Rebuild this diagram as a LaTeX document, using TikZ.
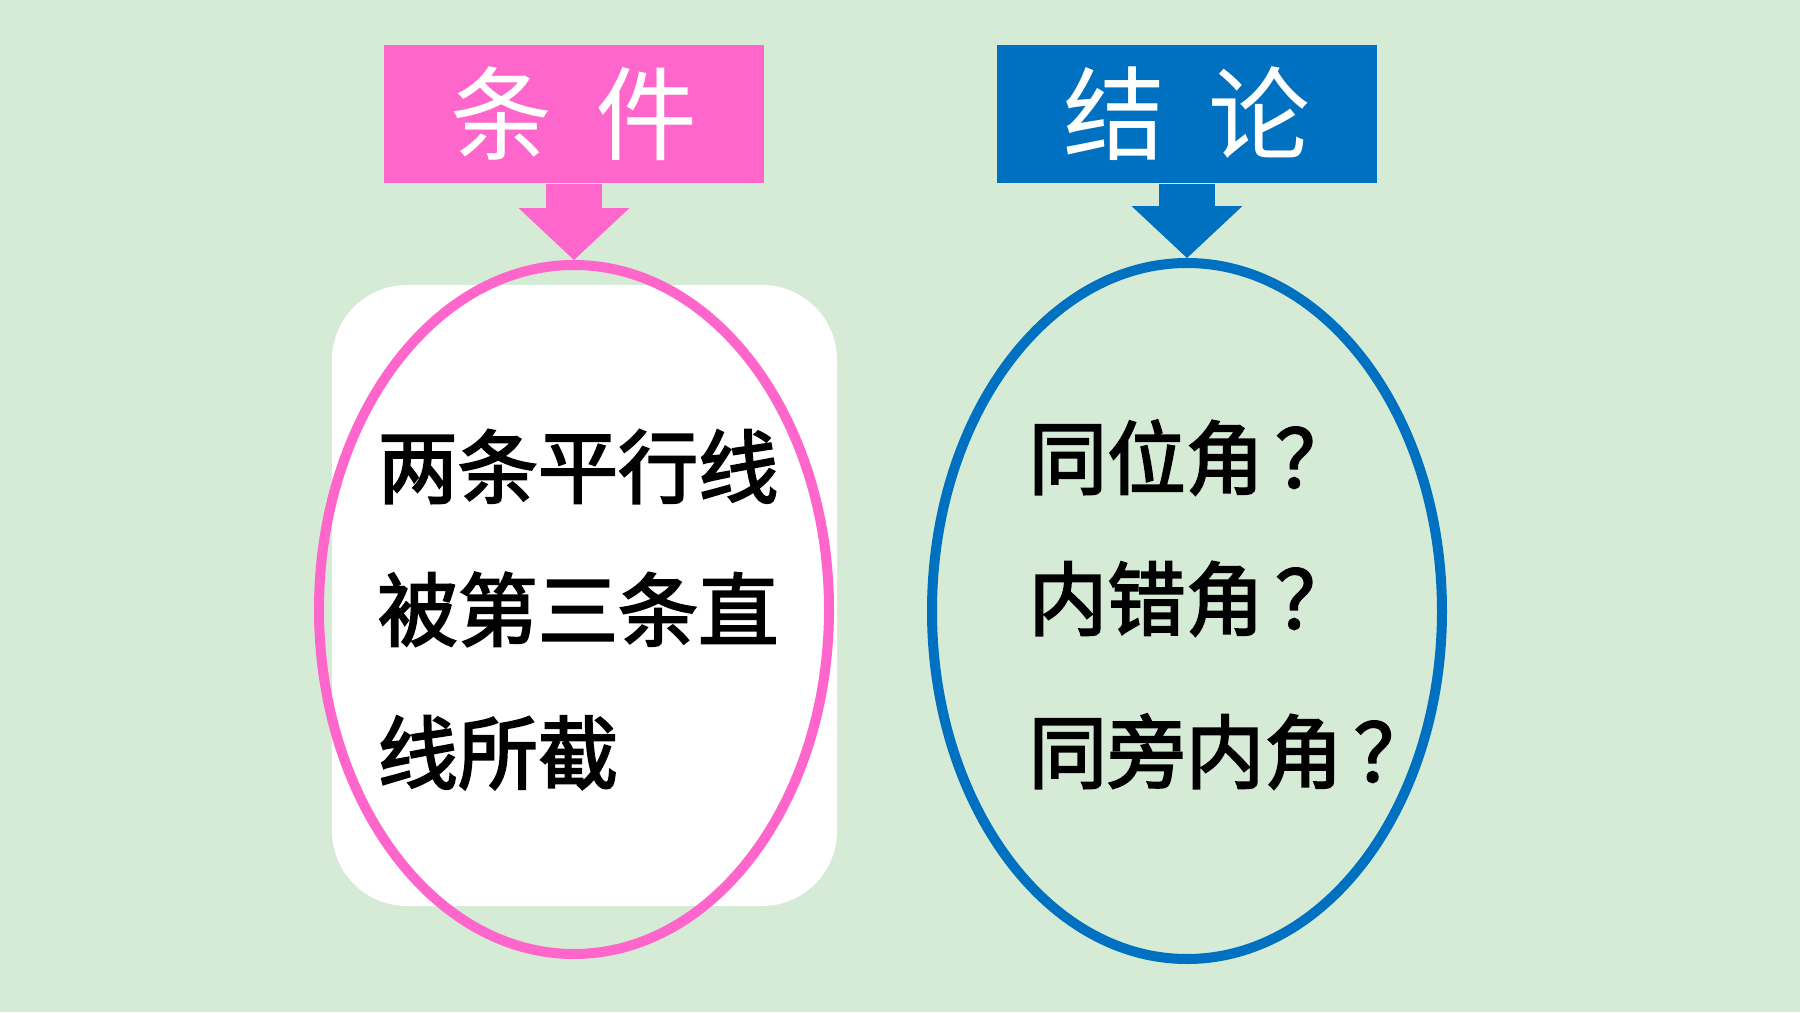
\documentclass[tikz,border=0pt]{standalone}
\usepackage{fontspec}
\newfontfamily\cjk{Noto Sans CJK SC}
\newfontfamily\cjkbody[FakeBold=2.5]{Noto Sans CJK SC}
\newfontfamily\cjknarrow[FakeBold=2.5, FakeStretch=0.98]{Noto Sans CJK SC}
\newcommand{\qmark}{\hspace{0.13em}\makebox[1em][c]{？}}
\usetikzlibrary{positioning, shapes.geometric, arrows.meta}
\definecolor{bggreen}{RGB}{213,235,214}
\definecolor{condpink}{RGB}{255,102,204}
\definecolor{conclblue}{RGB}{0,112,192}

\begin{document}
\begin{tikzpicture}[
    title/.style={rectangle, minimum width=3.8cm, minimum height=1.38cm, inner sep=0pt, text=white, font=\cjk\fontsize{29}{34}\selectfont},
    ring/.style={ellipse, draw, line width=0.1cm, minimum width=5.1cm, inner sep=0pt},
    line_cond/.style={anchor=west, inner sep=0pt, text height=0.68cm, text depth=0.12cm, font=\cjkbody\fontsize{22.8}{27}\selectfont},
    line_concl/.style={anchor=west, inner sep=0pt, text height=0.68cm, text depth=0.12cm, font=\cjknarrow\fontsize{22.8}{27}\selectfont},
    arrow_down/.style={line width=0.56cm, -{Triangle[length=0.52cm, width=1.11cm, line width=0pt]}}]

    \useasboundingbox (0,0) rectangle (18,10.12);
    \fill[bggreen] (0,0) rectangle (18,10.12);

    % Condition
    \node[title, fill=condpink] (cond) at (5.74,8.98) {条\hspace{0.43em}件};
    \node[rectangle, fill=white, rounded corners=0.75cm, minimum width=5.05cm, minimum height=6.21cm] (panel) at (5.845,4.165) {};
    \node[ring, draw=condpink, minimum height=6.89cm] (condring) at (5.74,4.025) {};
    \draw[arrow_down, condpink] (cond.south) -- (condring.north);

    \node[line_cond] (c1) at (3.77,5.43) {两条平行线};
    \node[line_cond, below=1.43cm of c1.west, anchor=west] (c2) {被第三条直};
    \node[line_cond, below=1.43cm of c2.west, anchor=west] (c3) {线所截};

    % Conclusion
    \node[title, fill=conclblue] (concl) at (11.87,8.98) {结\hspace{0.43em}论};
    \node[ring, draw=conclblue, minimum height=6.96cm] (conclring) at (11.87,4.01) {};
    \draw[arrow_down, conclblue] (concl.south) -- (conclring.north);

    \node[line_concl] (d1) at (10.28,5.52) {同位角\qmark};
    \node[line_concl, below=1.41cm of d1.west, anchor=west] (d2) {内错角\qmark};
    \node[line_concl, below=1.53cm of d2.west, anchor=west] (d3) {同旁内角\qmark};
\end{tikzpicture}
\end{document}
